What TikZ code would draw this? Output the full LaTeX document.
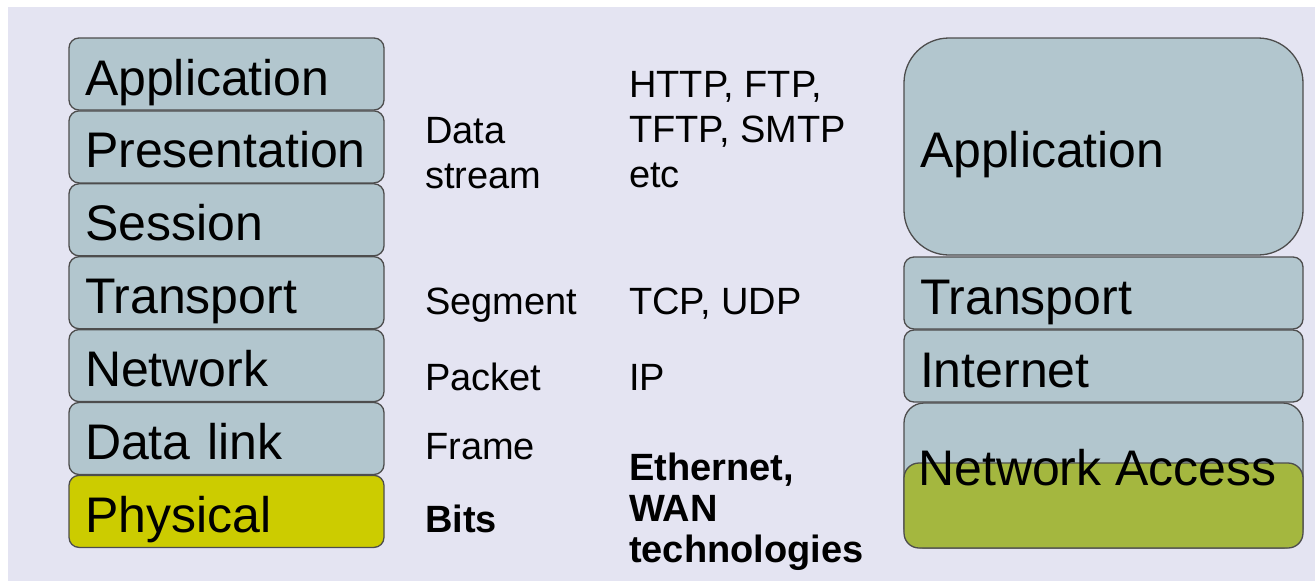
\documentclass[tikz,border=0pt]{standalone}
\usepackage{fontspec}
\setmainfont{Liberation Sans}
\usetikzlibrary{positioning}
\definecolor{layerblue}{HTML}{B2C6CE}
\definecolor{physyellow}{HTML}{CCCC00}
\definecolor{accessgreen}{HTML}{A4B73F}
\definecolor{slidebg}{HTML}{E4E4F2}
\definecolor{edgegray}{HTML}{4D4D4D}

\begin{document}
\begin{tikzpicture}[x=1pt, y=-1pt,
	layer/.style={draw=edgegray, line width=1.3pt, fill=layerblue, rounded corners=10pt, outer sep=0pt, minimum width=315pt, minimum height=72pt, inner xsep=16pt, inner ysep=0pt, text width=283pt, align=left, text height=42pt, text depth=0pt, font=\fontsize{50}{60}\selectfont},
	tcplayer/.style={layer, minimum width=399pt, text width=367pt},
	note/.style={anchor=base west, inner sep=0pt, align=left, font=\fontsize{38}{45}\selectfont}]
	\useasboundingbox (0,0) rectangle (1315,581);
	\fill [white] (0,0) rectangle (1315,581);
	\fill [slidebg] (8,7) rectangle (1315,581);
	\node [layer] (osiapp) at (226.5,74) {Application};
	\node [layer, below=0.9pt of osiapp] (osipres) {Presentation};
	\node [layer, below=0.9pt of osipres] (osisess) {Session};
	\node [layer, below=0.9pt of osisess] (ositrans) {Transport};
	\node [layer, below=0.9pt of ositrans] (osinet) {Network};
	\node [layer, below=0.9pt of osinet] (osilink) {Data link};
	\node [layer, fill=physyellow, below=0.9pt of osilink] (osiphys) {Physical};
	\node [tcplayer, minimum height=217pt, rounded corners=45pt] (tcpapp) at (1103.5,146.5) {Application};
	\node [tcplayer, below=2pt of tcpapp] (tcptrans) {Transport};
	\node [tcplayer, below=1pt of tcptrans] (tcpinet) {Internet};
	\node [tcplayer, minimum height=145pt, rounded corners=20pt, below=1pt of tcpinet] (tcpacc) {};
	\node [tcplayer, minimum height=85pt, rounded corners=15pt, fill=accessgreen, anchor=south] (tcpaccphys) at (tcpacc.south) {};
	\node [anchor=base west, inner sep=0pt, font=\fontsize{50}{60}\selectfont] (tcpacctext) at (918,485) {Network Access};
	\node [note] (pdustream) at (425,188) {Data\\stream};
	\node [note] (pduseg) at (425,314) {Segment};
	\node [note] (pdupacket) at (425,390) {Packet};
	\node [note] (pduframe) at (425,459) {Frame};
	\node [note, font=\bfseries\fontsize{38}{45}\selectfont] (pdubits) at (425,532) {Bits};
	\node [note] (protoapp) at (629,187) {HTTP, FTP,\\TFTP, SMTP\\etc};
	\node [note] (prototcp) at (629,314) {TCP, UDP};
	\node [note] (protoip) at (629,390) {IP};
	\node [note, font=\bfseries\fontsize{38}{41}\selectfont] (protolink) at (629,562) {Ethernet,\\WAN\\technologies};
\end{tikzpicture}
\end{document}
